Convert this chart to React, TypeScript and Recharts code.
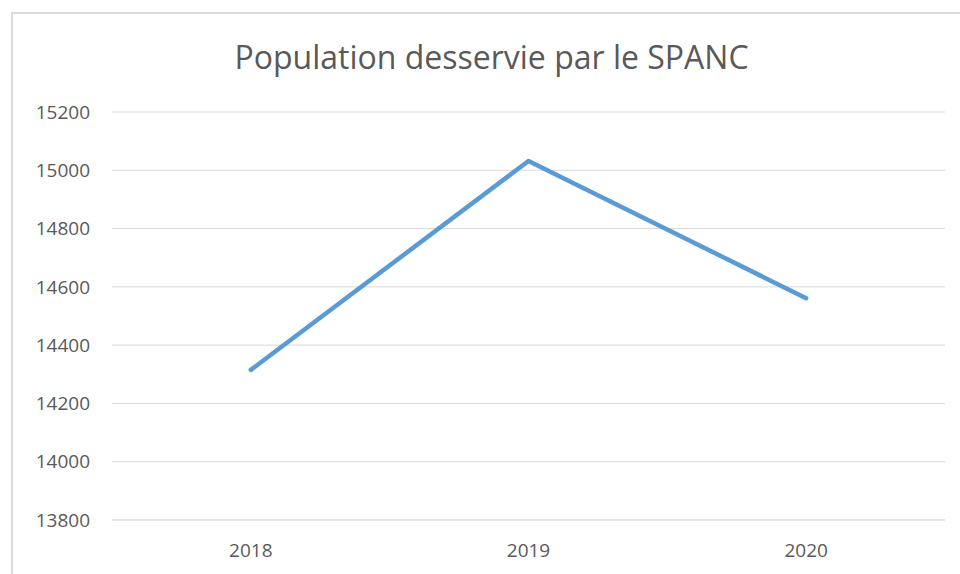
import React from "react";
import { LineChart, Line, XAxis, YAxis, CartesianGrid } from "recharts";

const years = ["2018", "2019", "2020"];
const population = [14315, 15032, 14561];
const yTicks = [13800, 14000, 14200, 14400, 14600, 14800, 15000, 15200];
const title = "Population desservie par le SPANC";

const data = years.map((y, i) => ({ year: y, value: population[i] }));

const FONT = "'Open Sans', 'Noto Sans', sans-serif";

export default function App() {
  return (
    <div style={{ position: "absolute", left: 0, top: 0, width: 960, height: 574, background: "#fff", overflow: "hidden" }}>
      <div
        style={{
          position: "absolute",
          left: 11,
          top: 12,
          width: 980,
          height: 600,
          borderLeft: "2px solid #d9d9d9",
          borderTop: "2px solid #d9d9d9",
        }}
      />
      <div
        style={{
          position: "absolute",
          left: 11,
          width: 961,
          top: 35,
          textAlign: "center",
          fontFamily: FONT,
          fontSize: 32,
          color: "#595959",
          lineHeight: "44px",
          whiteSpace: "nowrap",
        }}
      >
        {title}
      </div>
      <div style={{ position: "absolute", left: 0, top: 0 }}>
        <LineChart width={960} height={574} data={data} margin={{ top: 112, right: 15, bottom: 0, left: 12 }}>
          <CartesianGrid horizontal vertical={false} stroke="#d9d9d9" strokeWidth={1} />
          <XAxis
            dataKey="year"
            scale="band"
            axisLine={{ stroke: "#d9d9d9" }}
            tickLine={false}
            tickSize={0}
            tickMargin={24}
            height={54}
            tick={{ fill: "#595959", fontSize: 19, fontFamily: FONT }}
          />
          <YAxis
            domain={[13800, 15200]}
            ticks={yTicks}
            axisLine={false}
            tickLine={false}
            tickSize={0}
            tickMargin={22}
            width={100}
            tick={{ fill: "#595959", fontSize: 19, fontFamily: FONT }}
          />
          <Line
            type="linear"
            dataKey="value"
            stroke="#5B9BD5"
            strokeWidth={4.5}
            strokeLinecap="round"
            strokeLinejoin="round"
            dot={false}
            activeDot={false}
            isAnimationActive={false}
          />
        </LineChart>
      </div>
    </div>
  );
}
